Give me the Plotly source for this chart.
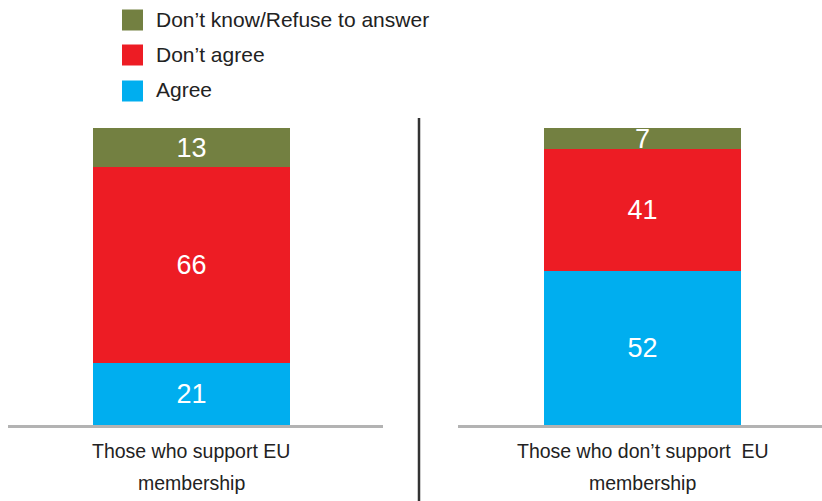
import plotly.graph_objects as go

# Survey answers by group (percent)
groups = ["Those who support EU<br>membership", "Those who don\u2019t support  EU<br>membership"]
series_names = ["Agree", "Don\u2019t agree", "Don\u2019t know/Refuse to answer"]
agree = [21, 52]
dont_agree = [66, 41]
dont_know = [13, 7]
series_values = [agree, dont_agree, dont_know]
series_colors = ["#00AEEF", "#ED1C24", "#738041"]

W, H = 822, 501
M_T, M_B = 128, 76
PLOT_H = H - M_T - M_B


def px_x(p):
    return p / W


def px_y(p):
    return (H - M_B - p) / PLOT_H


fig = go.Figure()

# one panel per group, each with its own x axis
axes = [("x", "y"), ("x2", "y")]
for gi, (xa, ya) in enumerate(axes):
    for name, vals, color in zip(series_names, series_values, series_colors):
        fig.add_trace(go.Bar(
            x=[groups[gi]], y=[vals[gi]], name=name,
            marker=dict(color=color, line=dict(width=0)),
            width=[0.525 if gi == 0 else 0.541],
            text=[str(vals[gi])], textposition="inside", textangle=0,
            insidetextanchor="middle", constraintext="none",
            textfont=dict(color="white", size=27, family="Liberation Sans, Arial, sans-serif"),
            xaxis=xa, yaxis=ya, showlegend=False, cliponaxis=False,
        ))

common_x = dict(showline=True, linecolor="#B3B3B3", linewidth=3, showgrid=False,
                zeroline=False, showticklabels=False, ticks="", fixedrange=True)
fig.update_layout(
    width=W, height=H, barmode="stack", bargap=0,
    margin=dict(l=0, r=0, t=M_T, b=M_B),
    paper_bgcolor="white", plot_bgcolor="white",
    font=dict(family="Liberation Sans, Arial, sans-serif", color="#222222"),
    xaxis=dict(domain=[px_x(8), px_x(383)], range=[-0.489, 0.511], **common_x),
    xaxis2=dict(domain=[px_x(458), px_x(822)], range=[-0.507, 0.493], anchor="y", **common_x),
    yaxis=dict(range=[0, 100], visible=False, fixedrange=True),
    showlegend=False,
)

# category labels beneath each panel
label_centers = [191, 642]
for gi, cx in enumerate(label_centers):
    for li, line in enumerate(groups[gi].split("<br>")):
        fig.add_annotation(
            x=px_x(cx), y=px_y(451 + li * 32), xref="paper", yref="paper",
            text=line, showarrow=False, xanchor="center", yanchor="middle",
            font=dict(size=19.5, color="#222222"),
        )

# legend: top entry is the last stacked series
legend_rows = [(20, 2), (55, 1), (91, 0)]
for cy, si in legend_rows:
    fig.add_shape(type="rect", xref="paper", yref="paper",
                  x0=px_x(122), x1=px_x(143), y0=px_y(cy - 10.5), y1=px_y(cy + 10.5),
                  fillcolor=series_colors[si], line=dict(width=0))
    fig.add_annotation(x=px_x(154), y=px_y(cy - 1), xref="paper", yref="paper",
                       text=series_names[si], showarrow=False,
                       xanchor="left", yanchor="middle",
                       font=dict(size=21, color="#222222"))

# divider between the two panels
fig.add_shape(type="line", xref="paper", yref="paper",
              x0=px_x(419), x1=px_x(419), y0=px_y(118), y1=px_y(501),
              line=dict(color="#333333", width=2.5))

fig.write_html("out.html")
